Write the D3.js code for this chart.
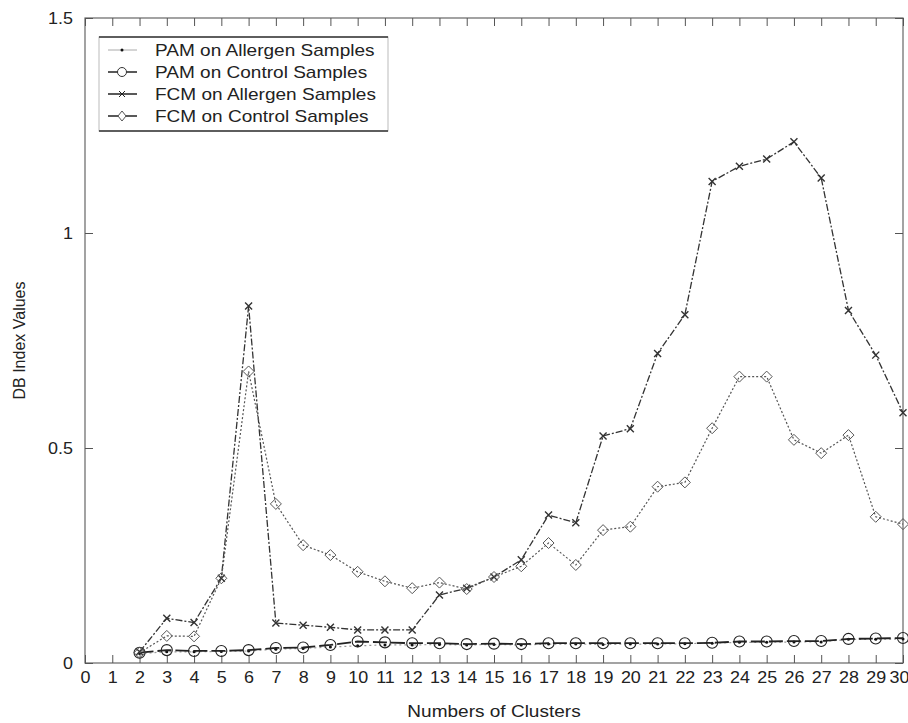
<html>
<head>
<meta charset="utf-8">
<script src="https://d3js.org/d3.v7.min.js"></script>
<style>
  body { margin: 0; background: #fff; }
  svg { font-family: "Liberation Sans", Arial, sans-serif; }
  .axis path, .axis line { stroke: #555; }
  .axis text { font-size: 16px; fill: #222; }
  .frame { fill: none; stroke: #666; stroke-width: 1.2; }
</style>
</head>
<body>
<div id="chart"></div>
<script>
// numbers of clusters
var clusters = [2,3,4,5,6,7,8,9,10,11,12,13,14,15,16,17,18,19,20,21,22,23,24,25,26,27,28,29,30];

// DB index values
var pamAllergen = [0.022,0.026,0.026,0.027,0.028,0.032,0.034,0.037,0.040,0.042,0.042,0.043,0.042,0.043,0.042,0.044,0.044,0.043,0.044,0.044,0.045,0.046,0.048,0.048,0.049,0.049,0.055,0.055,0.056];
var pamControl  = [0.024,0.030,0.028,0.028,0.030,0.035,0.036,0.042,0.050,0.048,0.046,0.046,0.044,0.045,0.044,0.046,0.046,0.046,0.046,0.046,0.046,0.047,0.050,0.050,0.051,0.051,0.056,0.057,0.058];
var fcmAllergen = [0.026,0.104,0.094,0.197,0.830,0.093,0.088,0.083,0.077,0.077,0.077,0.158,0.174,0.200,0.240,0.344,0.326,0.528,0.545,0.720,0.810,1.120,1.155,1.172,1.212,1.128,0.820,0.716,0.582];
var fcmControl  = [0.024,0.063,0.062,0.197,0.678,0.370,0.274,0.251,0.212,0.190,0.174,0.187,0.172,0.200,0.225,0.279,0.228,0.309,0.317,0.410,0.420,0.546,0.666,0.666,0.519,0.488,0.530,0.340,0.323];

var seriesNames = ["PAM on Allergen Samples", "PAM on Control Samples", "FCM on Allergen Samples", "FCM on Control Samples"];
var xTicks = d3.range(0, 31);
var yTicks = [0, 0.5, 1, 1.5];

var width = 908, height = 723;
var pLeft = 85, pRight = 903, pTop = 18, pBottom = 663;
var stretch = 1.12; // the scanned figure's text is a bit wide

var series = [
  {name: seriesNames[0], values: pamAllergen, color: "#999", dash: "2,3", width: 1.2, marker: "dot"},
  {name: seriesNames[1], values: pamControl,  color: "#222", dash: "14,4", width: 1.8, marker: "circle"},
  {name: seriesNames[2], values: fcmAllergen, color: "#333", dash: "7,2,2,2", width: 1.3, marker: "cross"},
  {name: seriesNames[3], values: fcmControl,  color: "#555", dash: "2,2", width: 1.2, marker: "diamond"}
];

var x = d3.scaleLinear().domain([0, 30]).range([pLeft, pRight]);
var y = d3.scaleLinear().domain([0, 1.5]).range([pBottom, pTop]);

var svg = d3.select("#chart").append("svg")
  .attr("width", width)
  .attr("height", height);

// frame
svg.append("rect").attr("class", "frame")
  .attr("x", pLeft).attr("y", pTop)
  .attr("width", pRight - pLeft).attr("height", pBottom - pTop);

// axes (ticks point inwards)
var xAxisG = svg.append("g").attr("class", "x axis")
  .attr("transform", `translate(0, ${pBottom})`)
  .call(d3.axisBottom(x).tickValues(xTicks).tickFormat(d3.format("d")).tickSizeInner(-8).tickSizeOuter(0).tickPadding(9));

xAxisG.selectAll(".tick text")
  .attr("transform", d => `translate(${d === 30 ? -4 : 0},0) scale(${stretch},1)`);

svg.append("g").attr("class", "axis")
  .attr("transform", `translate(0, ${pTop})`)
  .call(d3.axisTop(x).tickValues(xTicks).tickFormat("").tickSizeInner(-8).tickSizeOuter(0));

var yAxisG = svg.append("g").attr("class", "y axis")
  .attr("transform", `translate(${pLeft}, 0)`)
  .call(d3.axisLeft(y).tickValues(yTicks).tickFormat(d => d === 0 ? "0" : d3.format("")(d)).tickSizeInner(-8).tickSizeOuter(0).tickPadding(12));

yAxisG.selectAll(".tick text")
  .attr("transform", `scale(${stretch},1)`)
  .attr("x", -12 / stretch);

svg.append("g").attr("class", "axis")
  .attr("transform", `translate(${pRight}, 0)`)
  .call(d3.axisRight(y).tickValues(yTicks).tickFormat("").tickSizeInner(-8).tickSizeOuter(0));

svg.selectAll(".axis .domain").remove();

// axis titles
svg.append("text")
  .attr("transform", `translate(${(pLeft + pRight) / 2}, 717) scale(${stretch},1)`)
  .attr("text-anchor", "middle")
  .style("font-size", "17px")
  .attr("fill", "#222")
  .text("Numbers of Clusters");

svg.append("text")
  .attr("transform", `translate(25, ${(pTop + pBottom) / 2}) rotate(-90)`)
  .attr("text-anchor", "middle")
  .style("font-size", "16px")
  .attr("fill", "#222")
  .text("DB Index Values");

// lines
var line = d3.line()
  .x(d => x(d.c))
  .y(d => y(d.v));

function drawMarker(g, type, color) {
  if (type === "dot") {
    g.append("circle").attr("r", 1.5).attr("fill", "#111");
  } else if (type === "circle") {
    g.append("circle").attr("r", 5.5).attr("fill", "none").attr("stroke", color).attr("stroke-width", 1.1);
  } else if (type === "cross") {
    g.append("path").attr("d", "M-3.5,-3.5L3.5,3.5M-3.5,3.5L3.5,-3.5").attr("stroke", color).attr("stroke-width", 1.4);
  } else if (type === "diamond") {
    g.append("path").attr("d", "M0,-5.5L5.5,0L0,5.5L-5.5,0Z").attr("fill", "none").attr("stroke", color).attr("stroke-width", 1);
  }
}

var plot = svg.append("g");

series.forEach(function(s) {
  var pts = clusters.map((c, i) => ({c: c, v: s.values[i]}));
  plot.append("path")
    .datum(pts)
    .attr("d", line)
    .attr("fill", "none")
    .attr("stroke", s.color)
    .attr("stroke-width", s.width)
    .attr("stroke-dasharray", s.dash);
  pts.forEach(function(p) {
    var g = plot.append("g").attr("transform", `translate(${x(p.c)}, ${y(p.v)})`);
    drawMarker(g, s.marker, s.color);
  });
});

// legend
var lg = svg.append("g");
lg.append("rect")
  .attr("x", 99).attr("y", 37).attr("width", 289).attr("height", 94)
  .attr("fill", "#fff").attr("stroke", "#bbb");
lg.append("line").attr("x1", 99).attr("x2", 388).attr("y1", 37).attr("y2", 37).attr("stroke", "#333").attr("stroke-width", 1.5);
lg.append("line").attr("x1", 99).attr("x2", 388).attr("y1", 131).attr("y2", 131).attr("stroke", "#333").attr("stroke-width", 1.5);

series.forEach(function(s, i) {
  var yy = 50 + i * 22;
  lg.append("line")
    .attr("x1", 108).attr("x2", 137).attr("y1", yy).attr("y2", yy)
    .attr("stroke", i === 0 ? "#aaa" : "#222").attr("stroke-width", i === 0 ? 1 : 1.5);
  var g = lg.append("g").attr("transform", `translate(122, ${yy})`);
  if (s.marker === "dot") drawMarker(g, "dot", "#222");
  else if (s.marker === "circle") g.append("circle").attr("r", 4.5).attr("fill", "#fff").attr("stroke", "#333");
  else if (s.marker === "cross") g.append("path").attr("d", "M-3,-3L3,3M-3,3L3,-3").attr("stroke", "#222");
  else g.append("path").attr("d", "M0,-5L4,0L0,5L-4,0Z").attr("fill", "#fff").attr("stroke", "#555");
  lg.append("text")
    .attr("transform", `translate(155, ${yy + 6}) scale(${stretch},1)`)
    .style("font-size", "17px")
    .attr("fill", "#222")
    .text(s.name);
});
</script>
</body>
</html>
